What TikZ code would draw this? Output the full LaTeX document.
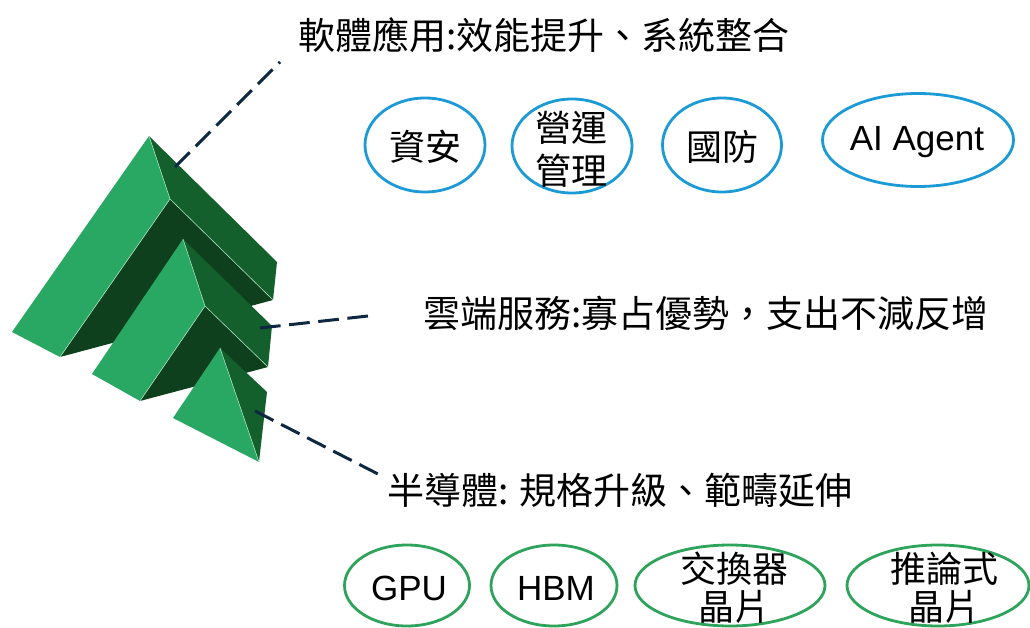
\documentclass[tikz,border=0pt]{standalone}
\usepackage{fontspec}
\setmainfont{Liberation Sans}
\newfontfamily\cjk{Noto Sans CJK TC}
\usetikzlibrary{shapes.geometric}
\definecolor{pyrLight}{HTML}{29A864}
\definecolor{pyrMid}{HTML}{13602C}
\definecolor{pyrDark}{HTML}{0E401E}
\definecolor{pyrEdge}{HTML}{A8DDBD}
\definecolor{leader}{HTML}{0E2841}
\definecolor{ringBlue}{HTML}{1C9AD6}
\definecolor{ringGreen}{HTML}{2EA35C}
\begin{document}
\begin{tikzpicture}[x=1pt,y=-1pt,
  lightface/.style={fill=pyrLight},
  midface/.style={fill=pyrMid},
  darkface/.style={fill=pyrDark},
  ridge/.style={draw=pyrEdge,line width=0.6pt},
  leaderline/.style={draw=leader,line width=3pt,dash pattern=on 20.7pt off 8.6pt},
  heading/.style={inner sep=0pt,font=\cjk\fontsize{37}{44}\selectfont},
  ring/.style={ellipse,line width=2.8pt,inner sep=0pt},
  bluering/.style={ring,draw=ringBlue},
  greenring/.style={ring,draw=ringGreen},
  ringtext/.style={inner sep=0pt,align=center,font=\cjk\fontsize{36}{43}\selectfont},
  ringlatin/.style={inner sep=0pt,font=\fontsize{35}{42}\selectfont},
]
\useasboundingbox (0,0) rectangle (1030,628);

% ---- stacked pyramid: top chevron ----
\fill[darkface] (170,199) -- (273,300) -- (60,357) -- cycle;
\fill[midface] (149,136) -- (170,199) -- (273,300) -- (277,262) -- cycle;
\fill[lightface] (149,136) -- (12,332) -- (60,357) -- (170,199) -- cycle;
\draw[ridge] (149,136) -- (170,199) -- (273,300);
\draw[ridge] (170,199) -- (60,357);

% ---- middle chevron ----
\fill[darkface] (205,306) -- (268,367) -- (140,401) -- cycle;
\fill[midface] (183,239) -- (205,306) -- (268,367) -- (272,326) -- cycle;
\fill[lightface] (183,239) -- (92,374) -- (140,401) -- (205,306) -- cycle;
\draw[ridge] (183,239) -- (205,306) -- (268,367);
\draw[ridge] (205,306) -- (140,401);

% ---- bottom tip ----
\fill[midface] (220,348) -- (267,392) -- (259,462) -- cycle;
\fill[lightface] (220,348) -- (173,418) -- (259,462) -- cycle;
\draw[ridge] (220,348) -- (259,462);

% ---- headings ----
\node[heading] (soft) at (544,35) {軟體應用:效能提升、系統整合};
\node[heading] (cloud) at (706,313) {雲端服務:寡占優勢，支出不減反增};
\node[heading] (semi) at (620,490) {半導體: 規格升級、範疇延伸};

% ---- leader lines ----
\coordinate (softA) at (175,167);
\coordinate (softB) at (280,62);
\coordinate (cloudA) at (260,328);
\coordinate (cloudB) at (368,316);
\coordinate (semiA) at (255,411);
\coordinate (semiB) at (378,474);
\draw[leaderline] (softA) -- (softB);
\draw[leaderline] (cloudA) -- (cloudB);
\draw[leaderline] (semiA) -- (semiB);

% ---- software application rings ----
\node[bluering,minimum width=120pt,minimum height=94pt] (sec) at (425,145) {};
\node[ringtext] (secT) at (425,147) {資安};
\node[bluering,minimum width=120pt,minimum height=94pt] (ops) at (572,146) {};
\node[ringtext] (opsT) at (571,149) {營運\\管理};
\node[bluering,minimum width=119pt,minimum height=94pt] (def) at (722,145) {};
\node[ringtext] (defT) at (722,147) {國防};
\node[bluering,minimum width=191pt,minimum height=93pt] (agent) at (918,140) {};
\node[ringlatin] (agentT) at (917,142) {AI Agent};

% ---- semiconductor rings ----
\node[greenring,minimum width=125pt,minimum height=81pt] (gpu) at (407,585.5) {};
\node[ringlatin] (gpuT) at (409,588) {GPU};
\node[greenring,minimum width=126pt,minimum height=81pt] (hbm) at (554,585.5) {};
\node[ringlatin] (hbmT) at (556,588) {HBM};
\node[greenring,minimum width=190pt,minimum height=81pt] (sw) at (730,585.5) {};
\node[ringtext,font=\cjk\fontsize{36}{38}\selectfont] (swT) at (734,588) {交換器\\晶片};
\node[greenring,minimum width=182pt,minimum height=81pt] (inf) at (938,585.5) {};
\node[ringtext,font=\cjk\fontsize{36}{38}\selectfont] (infT) at (944,588) {推論式\\晶片};
\end{tikzpicture}
\end{document}
